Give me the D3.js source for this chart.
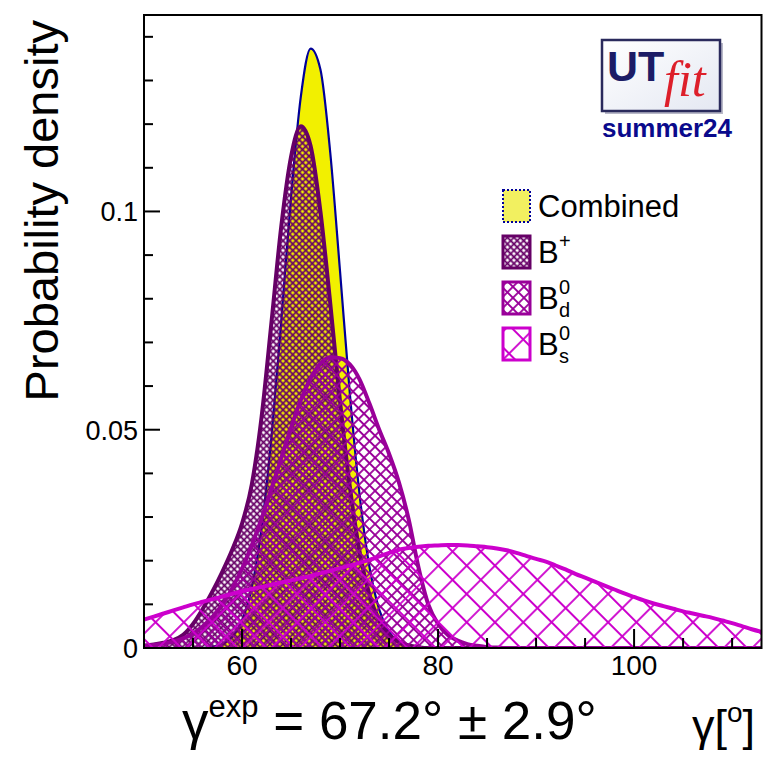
<!DOCTYPE html>
<html>
<head>
<meta charset="utf-8">
<script src="https://cdn.jsdelivr.net/npm/d3@7/dist/d3.min.js"></script>
<style>
  body { margin: 0; background: #fff; }
  text { font-family: "Liberation Sans", Arial, Helvetica, sans-serif; }
</style>
</head>
<body>
<svg width="774" height="758"></svg>
<script>
var gamma = [50, 51, 52, 53, 54, 55, 56, 57, 58, 59, 60, 61, 62, 63, 64, 65, 66, 67, 68, 69,
             70, 71, 72, 73, 74, 75, 76, 77, 78, 79, 80, 81, 82, 83, 84, 85, 86, 87, 88, 89,
             90, 91, 92, 93, 94, 95, 96, 97, 98, 99, 100, 101, 102, 103, 104, 105, 106, 107, 108, 109,
             110, 111, 112, 113];

var combined = [0, 0, 0, 0, 0, 0, 0, 0.0003, 0.0009, 0.0025,
                0.0063, 0.0139, 0.0275, 0.0482, 0.0748, 0.1032, 0.1263, 0.1373, 0.1325, 0.1135,
                0.0863, 0.0583, 0.0350, 0.0186, 0.0088, 0.0037, 0.0014, 0.0005, 0.0001, 0,
                0, 0, 0, 0, 0, 0, 0, 0, 0, 0,
                0, 0, 0, 0, 0, 0, 0, 0, 0, 0,
                0, 0, 0, 0, 0, 0, 0, 0, 0, 0,
                0, 0, 0, 0];

var bPlus = [0.0005, 0.0008, 0.0012, 0.0018, 0.0030, 0.0055, 0.0090, 0.0130, 0.0175, 0.0225,
             0.0285, 0.0375, 0.0530, 0.0745, 0.0965, 0.1125, 0.1195, 0.1150, 0.1000, 0.0790,
             0.0565, 0.0370, 0.0220, 0.0122, 0.0063, 0.0030, 0.0014, 0.0006, 0.0002, 0,
             0, 0, 0, 0, 0, 0, 0, 0, 0, 0,
             0, 0, 0, 0, 0, 0, 0, 0, 0, 0,
             0, 0, 0, 0, 0, 0, 0, 0, 0, 0,
             0, 0, 0, 0];

var bd = [0.0005, 0.0007, 0.0010, 0.0015, 0.0022, 0.0033, 0.0050, 0.0072, 0.0100, 0.0137,
          0.0182, 0.0236, 0.0297, 0.0365, 0.0435, 0.0505, 0.0568, 0.0618, 0.0652, 0.0666,
          0.0664, 0.0650, 0.0615, 0.0560, 0.0500, 0.0445, 0.0380, 0.0295, 0.0185, 0.0100,
          0.0055, 0.0030, 0.0017, 0.0009, 0.0005, 0.0002, 0.0001, 0, 0, 0,
          0, 0, 0, 0, 0, 0, 0, 0, 0, 0,
          0, 0, 0, 0, 0, 0, 0, 0, 0, 0,
          0, 0, 0, 0];

var bs = [0.0065, 0.0072, 0.0079, 0.0086, 0.0093, 0.0100, 0.0106, 0.0112, 0.0118, 0.0124,
          0.0130, 0.0135, 0.0140, 0.0145, 0.0150, 0.0155, 0.0160, 0.0165, 0.0171, 0.0177,
          0.0183, 0.0189, 0.0195, 0.0202, 0.0210, 0.0218, 0.0225, 0.0229, 0.0232, 0.0234,
          0.0235, 0.0236, 0.0236, 0.0235, 0.0233, 0.0231, 0.0228, 0.0224, 0.0218, 0.0211,
          0.0204, 0.0198, 0.0189, 0.0180, 0.0170, 0.0161, 0.0152, 0.0143, 0.0134, 0.0125,
          0.0117, 0.0109, 0.0102, 0.0096, 0.0090, 0.0084, 0.0079, 0.0074, 0.0069, 0.0063,
          0.0057, 0.0050, 0.0043, 0.0037];

var xMajor = [60, 80, 100];
var xMinor = [55, 65, 70, 75, 85, 90, 95, 105, 110];
var yMajor = [0, 0.05, 0.1];
var yMinor = [0.01, 0.02, 0.03, 0.04, 0.06, 0.07, 0.08, 0.09, 0.11, 0.12, 0.13, 0.14];

var svg = d3.select("svg");
var frameL = 144, frameR = 761.5, frameT = 15, frameB = 648;

var x = d3.scaleLinear().domain([50, 113]).range([frameL, frameR]);
var y = d3.scaleLinear().domain([0, 0.145]).range([frameB, frameT]);

var defs = svg.append("defs");
defs.append("clipPath").attr("id", "plotclip")
  .append("rect").attr("x", frameL).attr("y", frameT)
  .attr("width", frameR - frameL).attr("height", frameB - frameT);

// crosshatch pattern: two line families at 45 degrees
function hatch(id, size, color, width) {
  var p = defs.append("pattern")
    .attr("id", id)
    .attr("patternUnits", "userSpaceOnUse")
    .attr("width", size).attr("height", size)
    .attr("patternTransform", "rotate(45)");
  p.append("path")
    .attr("d", "M0," + size / 2 + "H" + size + "M" + size / 2 + ",0V" + size)
    .attr("stroke", color).attr("stroke-width", width).attr("fill", "none");
}
hatch("hBplus", 4.6, "#660066", 1.7);
hatch("hBd", 7.8, "#990099", 1.8);
hatch("hBs", 20, "#cc00cc", 1.8);

var series = [
  {values: combined, fill: "#f2f000", stroke: "#000099", width: 2.2},
  {values: bPlus, fill: "url(#hBplus)", stroke: "#660066", width: 4},
  {values: bd, fill: "url(#hBd)", stroke: "#990099", width: 4},
  {values: bs, fill: "url(#hBs)", stroke: "#cc00cc", width: 4}
];

var plot = svg.append("g").attr("clip-path", "url(#plotclip)");

series.forEach(function(s) {
  var pts = gamma.map(function(g, i) { return [g, s.values[i]]; });
  var area = d3.area()
    .x(function(d) { return x(d[0]); })
    .y0(y(0))
    .y1(function(d) { return y(d[1]); })
    .curve(d3.curveMonotoneX);
  var line = d3.line()
    .x(function(d) { return x(d[0]); })
    .y(function(d) { return y(d[1]); })
    .curve(d3.curveMonotoneX);
  plot.append("path").attr("d", area(pts)).attr("fill", s.fill);
  plot.append("path").attr("d", line(pts))
    .attr("fill", "none").attr("stroke", s.stroke).attr("stroke-width", s.width)
    .attr("stroke-linejoin", "round");
});

// frame
svg.append("rect")
  .attr("x", frameL).attr("y", frameT).attr("width", frameR - frameL).attr("height", frameB - frameT)
  .attr("fill", "none").attr("stroke", "#000").attr("stroke-width", 2);

// ticks
var ticks = svg.append("g").attr("stroke", "#000").attr("stroke-width", 2);
xMajor.forEach(function(v) {
  ticks.append("line").attr("x1", x(v)).attr("x2", x(v)).attr("y1", frameB).attr("y2", frameB - 19);
});
xMinor.forEach(function(v) {
  ticks.append("line").attr("x1", x(v)).attr("x2", x(v)).attr("y1", frameB).attr("y2", frameB - 10);
});
yMajor.forEach(function(v) {
  ticks.append("line").attr("x1", frameL).attr("x2", frameL + 16).attr("y1", y(v)).attr("y2", y(v));
});
yMinor.forEach(function(v) {
  ticks.append("line").attr("x1", frameL).attr("x2", frameL + 9).attr("y1", y(v)).attr("y2", y(v));
});

// tick labels
svg.append("g").selectAll("text").data(xMajor).enter().append("text")
  .attr("x", function(d) { return x(d); })
  .attr("y", 675)
  .attr("text-anchor", "middle")
  .attr("font-size", 28)
  .text(function(d) { return d; });

svg.append("g").selectAll("text").data(yMajor).enter().append("text")
  .attr("x", 138)
  .attr("y", function(d) { return y(d) + 10; })
  .attr("text-anchor", "end")
  .attr("font-size", 27)
  .text(function(d) { return d; });

// axis titles
svg.append("text")
  .attr("transform", "translate(58,20) rotate(-90)")
  .attr("text-anchor", "end")
  .attr("font-size", 47)
  .text("Probability density");

var xt = svg.append("text").attr("x", 692).attr("y", 741).attr("font-size", 45);
xt.append("tspan").text("γ[");
xt.append("tspan").attr("font-size", 28).attr("dy", -19).text("o");
xt.append("tspan").attr("dy", 19).text("]");

var res = svg.append("text").attr("x", 182).attr("y", 739).attr("font-size", 53);
res.append("tspan").text("γ");
res.append("tspan").attr("font-size", 31).attr("dy", -22).text("exp");
res.append("tspan").attr("dy", 22).text(" = 67.2° ± 2.9°");

// legend
var legend = [
  {label: "Combined", fill: "#f2f060", stroke: "#000099", dash: "2,2", width: 2},
  {label: "B", sup: "+", fill: "url(#hBplus)", stroke: "#660066", width: 3},
  {label: "B", sup: "0", sub: "d", fill: "url(#hBd)", stroke: "#990099", width: 3},
  {label: "B", sup: "0", sub: "s", fill: "url(#hBs)", stroke: "#cc00cc", width: 3}
];
var lg = svg.append("g");
legend.forEach(function(e, i) {
  var cy = 206 + i * 46;
  lg.append("rect").attr("x", 503).attr("y", cy - 16).attr("width", 27).attr("height", 32)
    .attr("fill", "#fff");
  lg.append("rect").attr("x", 503).attr("y", cy - 16).attr("width", 27).attr("height", 32)
    .attr("fill", e.fill).attr("stroke", e.stroke).attr("stroke-width", e.width)
    .attr("stroke-dasharray", e.dash || null);
  var t = lg.append("text").attr("x", 538).attr("y", cy + 11).attr("font-size", 31);
  t.append("tspan").text(e.label);
  if (e.sup) {
    lg.append("text").attr("x", 559).attr("y", cy - 4).attr("font-size", 20).text(e.sup);
  }
  if (e.sub) {
    lg.append("text").attr("x", 559).attr("y", cy + 19).attr("font-size", 20).text(e.sub);
  }
});

// UTfit logo
var logoGrad = defs.append("linearGradient").attr("id", "logobg")
  .attr("x1", 0).attr("y1", 0).attr("x2", 1).attr("y2", 1);
logoGrad.append("stop").attr("offset", 0).attr("stop-color", "#ffffff");
logoGrad.append("stop").attr("offset", 1).attr("stop-color", "#e4e8f2");
svg.append("rect").attr("x", 605).attr("y", 43).attr("width", 118).attr("height", 71)
  .attr("fill", "#b8b8c8");
svg.append("rect").attr("x", 602).attr("y", 40).attr("width", 118).attr("height", 71)
  .attr("fill", "url(#logobg)").attr("stroke", "#2a2a5c").attr("stroke-width", 2.5);
svg.append("text").attr("x", 607).attr("y", 81)
  .attr("font-size", 43).attr("font-weight", "bold").attr("fill", "#1c1c66")
  .text("UT");
svg.append("text").attr("x", 664).attr("y", 96)
  .style("font-family", "'Liberation Serif', 'DejaVu Serif', serif")
  .attr("font-size", 50).attr("font-style", "italic").attr("fill", "#dd1f2a")
  .text("fit");
svg.append("text").attr("x", 667).attr("y", 137)
  .attr("text-anchor", "middle").attr("font-size", 26).attr("font-weight", "bold")
  .attr("fill", "#0a0a8c")
  .text("summer24");
</script>
</body>
</html>
